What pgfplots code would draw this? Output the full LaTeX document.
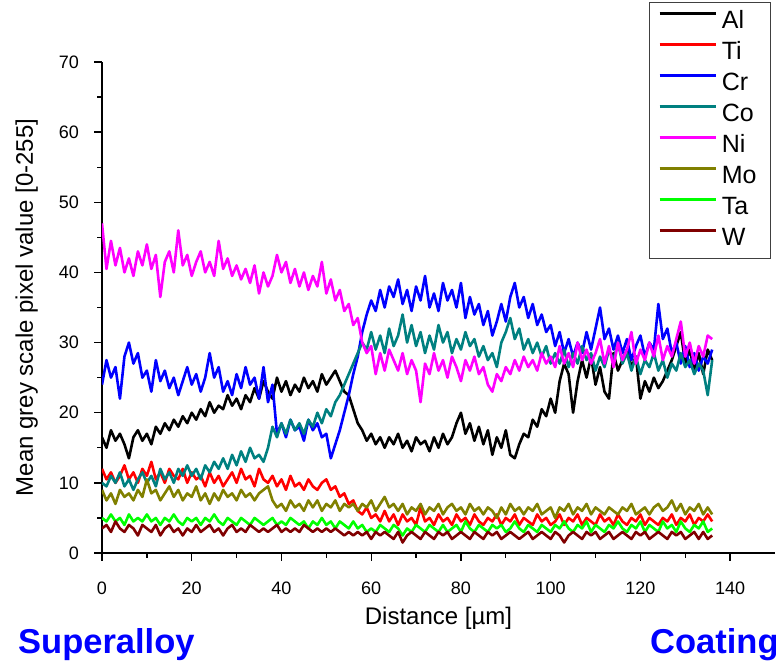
\documentclass[border=0pt]{standalone}
\usepackage{fontspec}
\setmainfont{Liberation Sans}
\usepackage{pgfplots}
\usepackage{pgfplotstable}
\pgfplotsset{compat=1.18}
\definecolor{cAl}{RGB}{0,0,0}
\definecolor{cTi}{RGB}{255,0,0}
\definecolor{cCr}{RGB}{0,0,255}
\definecolor{cCo}{RGB}{0,128,128}
\definecolor{cNi}{RGB}{255,0,255}
\definecolor{cMo}{RGB}{128,128,0}
\definecolor{cTa}{RGB}{0,255,0}
\definecolor{cW}{RGB}{128,0,0}
\pgfplotstableread{
x Al Ti Cr Co Ni Mo Ta W
0 16.5 12.0 24.0 10.0 47.0 9.0 5.0 3.5
1 15.0 10.5 27.5 9.5 40.5 7.5 4.5 4.0
2 17.5 11.5 25.0 11.0 44.5 8.5 5.5 3.0
3 16.0 10.0 26.5 10.0 41.0 7.0 4.5 4.5
4 17.0 11.0 22.0 11.5 43.5 9.0 5.0 3.5
5 15.5 12.5 28.0 9.5 40.0 8.0 4.0 3.0
6 13.5 10.5 30.0 10.5 42.0 8.5 5.5 4.0
7 16.5 11.5 27.0 9.0 39.5 7.5 4.5 3.5
8 17.5 10.0 28.5 10.5 43.0 9.0 5.0 2.5
9 16.0 12.0 25.0 11.5 41.0 8.0 4.5 4.0
10 17.0 11.0 26.0 10.0 44.0 10.5 5.5 3.5
11 15.5 13.0 23.0 11.0 40.5 8.5 4.5 3.0
12 18.0 10.5 27.5 9.5 42.5 9.0 5.0 4.0
13 17.0 11.5 24.5 12.0 36.5 7.5 4.0 2.5
14 18.5 10.0 26.0 10.5 41.5 8.5 5.0 3.5
15 17.5 12.0 23.5 11.5 43.0 9.5 4.5 4.0
16 19.0 11.0 25.0 10.0 40.0 8.0 5.5 3.0
17 18.0 10.5 22.5 12.0 46.0 9.0 4.5 3.5
18 19.5 12.0 24.5 11.0 41.0 7.5 4.0 2.5
19 18.5 10.0 26.5 12.5 42.5 8.5 5.0 3.5
20 20.0 11.5 24.0 11.0 39.5 8.0 4.5 3.0
21 19.0 10.5 25.5 12.0 41.5 9.5 5.0 4.0
22 20.5 11.0 23.0 10.5 43.0 7.5 4.0 3.0
23 19.5 9.5 25.0 12.5 40.0 8.5 5.0 3.5
24 21.5 11.5 28.5 11.5 41.5 7.0 4.5 4.0
25 20.0 10.0 25.0 13.0 39.5 8.5 5.5 3.0
26 21.0 11.0 26.5 12.0 44.5 7.5 4.5 3.5
27 20.5 9.5 23.0 13.5 40.5 9.0 4.0 2.5
28 22.5 10.5 24.5 12.0 42.0 8.0 5.0 3.5
29 21.0 11.5 22.5 14.0 39.5 8.5 4.5 4.0
30 22.0 10.0 25.5 12.5 41.0 7.5 4.0 3.0
31 20.5 12.0 23.5 14.5 39.0 9.0 5.0 3.5
32 22.5 10.5 26.5 13.0 40.5 8.0 4.5 3.0
33 21.5 11.0 24.0 15.0 38.5 8.5 4.0 4.0
34 23.5 9.5 25.0 13.5 41.0 7.5 5.0 3.5
35 22.0 12.0 22.0 14.0 37.0 8.5 4.5 3.0
36 24.5 10.5 26.5 13.0 40.0 9.0 4.0 3.5
37 23.0 10.0 21.5 15.0 38.0 9.5 4.5 3.0
38 22.0 11.0 24.0 18.0 39.5 7.5 5.0 3.5
39 25.0 9.5 17.0 16.5 42.5 6.5 4.0 4.0
40 23.0 10.5 18.5 18.5 40.0 7.0 4.5 3.0
41 24.5 9.0 16.5 17.0 41.5 6.0 4.0 3.5
42 22.5 11.0 19.0 19.0 38.5 7.5 5.0 3.0
43 24.0 9.5 17.5 17.5 40.5 6.5 4.5 3.5
44 23.0 10.0 18.0 18.5 38.0 7.0 4.0 3.0
45 25.0 9.0 16.0 17.0 40.0 6.0 4.5 4.0
46 23.5 10.5 19.0 19.0 37.5 7.5 3.5 3.5
47 24.5 9.5 17.5 18.0 39.5 6.5 4.5 3.0
48 23.0 9.0 18.5 20.0 38.0 7.5 4.0 3.5
49 25.5 10.0 16.5 18.5 41.5 6.0 5.0 3.0
50 24.0 10.5 17.0 20.5 37.0 7.0 4.0 3.5
51 25.0 9.0 13.5 19.5 39.0 6.5 4.5 3.0
52 26.0 9.5 15.5 21.5 36.0 7.5 3.5 3.5
53 24.5 8.0 17.5 22.5 37.5 6.0 4.5 3.0
54 23.0 8.5 20.0 24.0 34.5 7.0 4.0 2.5
55 22.5 7.0 22.5 25.5 35.5 6.5 3.5 3.0
56 20.5 7.5 25.5 27.0 32.5 7.0 4.5 2.5
57 18.5 6.0 28.0 28.5 33.5 6.0 3.5 3.0
58 17.5 5.5 31.5 30.0 30.0 7.0 4.0 2.5
59 16.0 6.5 34.0 29.0 28.5 6.5 3.0 3.0
60 17.0 5.0 36.0 31.5 29.5 7.5 3.5 2.0
61 15.5 5.5 34.5 29.0 25.5 6.0 3.0 3.0
62 16.5 4.5 37.5 31.0 28.5 7.0 4.0 2.5
63 15.0 6.0 35.0 28.5 26.0 8.0 3.5 3.0
64 16.5 4.5 38.0 32.0 29.0 6.5 3.0 2.5
65 15.5 5.5 36.5 29.5 27.5 7.0 4.0 2.0
66 17.0 4.0 39.0 31.0 26.0 6.0 3.5 3.0
67 15.0 5.5 35.5 34.0 28.5 7.0 2.5 1.5
68 16.0 4.5 37.5 30.0 25.5 5.5 3.5 2.5
69 14.5 5.0 34.5 32.5 27.5 6.5 3.0 3.0
70 16.5 4.0 38.0 29.5 26.0 6.0 4.0 2.5
71 15.5 6.5 36.0 31.5 21.5 7.0 3.5 2.0
72 16.0 4.5 39.5 28.5 27.0 5.5 3.0 3.0
73 14.5 5.0 35.0 31.0 25.5 6.5 4.0 2.5
74 16.5 4.0 37.0 29.0 28.5 6.0 3.5 2.0
75 15.0 5.5 34.5 32.5 26.0 7.0 3.0 3.0
76 17.0 4.5 38.5 30.0 27.5 5.5 4.0 2.5
77 15.5 5.0 36.0 31.5 25.0 6.5 3.0 3.0
78 16.5 4.0 37.5 28.5 28.0 7.0 3.5 2.0
79 18.5 5.5 35.0 30.5 26.5 6.0 4.0 2.5
80 20.0 4.5 38.5 29.0 24.5 6.5 3.0 3.0
81 17.0 5.0 33.5 31.5 27.5 5.5 4.5 2.5
82 18.5 4.0 36.5 29.5 26.0 7.0 3.5 2.0
83 16.0 5.5 34.0 30.5 28.0 6.0 3.0 3.0
84 18.0 4.5 35.5 28.0 25.5 6.5 4.0 2.5
85 15.5 4.0 32.5 29.5 26.5 5.5 3.5 2.0
86 17.5 5.0 34.5 27.5 24.0 6.5 3.0 3.0
87 14.0 4.5 31.0 28.5 23.0 6.0 4.0 2.5
88 16.5 5.5 33.0 26.5 25.5 5.0 3.5 3.0
89 15.0 4.0 35.5 30.0 24.5 6.5 4.0 2.0
90 17.5 5.0 33.0 31.5 26.5 5.5 3.0 2.5
91 14.0 4.5 36.5 33.5 25.5 7.0 3.5 3.0
92 13.5 5.5 38.5 30.5 27.5 6.0 4.5 2.5
93 15.5 4.0 35.0 32.0 26.0 6.5 3.5 2.0
94 17.0 5.0 36.5 29.0 28.0 5.5 3.0 2.5
95 16.5 4.5 33.5 30.5 26.5 6.5 4.0 3.0
96 19.0 4.0 35.5 28.5 27.5 6.0 3.5 2.0
97 18.0 5.5 32.5 30.0 26.0 7.0 3.0 2.5
98 20.5 4.5 34.0 28.0 28.5 5.5 4.0 3.0
99 19.5 5.0 31.5 29.5 27.0 6.0 3.5 2.5
100 22.0 4.0 32.5 27.0 28.0 6.5 3.0 2.0
101 20.0 4.5 29.5 28.5 26.5 5.0 4.0 3.0
102 24.5 5.5 31.5 27.0 29.5 6.5 3.5 2.5
103 27.0 4.0 28.5 29.0 27.0 6.0 4.5 1.5
104 25.5 5.0 30.5 26.5 28.5 7.0 3.5 2.5
105 20.0 4.5 28.0 28.5 26.5 5.5 3.0 3.0
106 24.5 5.5 30.0 27.0 30.0 6.5 4.0 2.5
107 27.5 4.0 28.5 29.5 27.5 6.0 3.5 2.0
108 25.0 5.0 31.5 27.5 29.0 7.0 4.5 3.0
109 28.0 4.5 29.0 28.5 27.0 5.5 3.0 2.5
110 24.0 4.0 32.0 26.0 28.5 6.5 4.0 3.0
111 26.5 5.5 35.0 28.0 30.5 6.0 3.5 2.0
112 23.0 4.5 30.5 26.5 27.0 5.5 3.0 2.5
113 22.0 5.0 32.0 29.0 29.5 6.5 4.0 3.0
114 28.5 4.0 29.0 27.5 26.5 6.0 3.5 2.0
115 26.0 5.5 31.0 30.0 30.0 5.5 4.5 2.5
116 27.5 4.5 28.5 27.0 27.5 6.5 3.5 3.0
117 29.0 4.0 30.5 28.5 29.0 6.0 3.0 2.5
118 26.5 5.0 27.5 26.0 31.5 7.0 4.0 2.0
119 28.0 4.5 29.5 28.0 27.0 5.5 3.5 3.0
120 22.0 5.5 31.0 25.5 29.0 6.0 4.5 2.5
121 24.5 4.0 28.0 27.5 27.5 6.5 3.0 3.0
122 23.0 5.0 30.0 26.5 30.0 5.5 4.0 2.0
123 25.0 4.5 29.0 28.5 28.0 6.5 3.5 2.5
124 23.5 4.0 35.5 26.0 31.0 7.0 3.0 3.0
125 24.5 5.0 30.5 27.5 27.5 6.0 4.5 2.5
126 26.0 4.5 32.0 25.0 29.5 6.5 3.5 2.0
127 27.5 5.5 28.5 27.0 28.0 7.5 4.0 3.0
128 29.5 4.0 30.0 26.0 30.5 6.0 3.0 2.5
129 31.5 5.0 27.0 28.5 33.0 7.0 4.5 3.0
130 27.0 4.5 29.5 26.5 28.0 5.5 3.5 2.0
131 29.0 5.5 26.5 27.5 30.0 6.5 3.0 2.5
132 26.0 4.0 28.5 25.5 27.0 6.0 4.0 3.0
133 28.5 5.0 26.0 27.0 29.5 7.0 3.5 2.0
134 25.5 4.5 28.0 26.0 28.0 5.5 4.5 3.0
135 29.0 5.5 27.0 22.5 31.0 6.5 3.0 2.0
136 27.5 4.5 29.0 27.5 30.5 5.5 3.5 2.5
}\profile
\begin{document}
\begin{tikzpicture}
\useasboundingbox (-102pt,-113pt) rectangle (674pt,553pt);
\begin{axis}[
  at={(0pt,0pt)}, anchor=south west,
  scale only axis, width=673pt, height=491pt,
  xmin=0, xmax=150, ymin=0, ymax=70,
  axis lines=left,
  axis line style={-, line width=1.4pt, black},
  xtick={0,20,...,140}, ytick={0,10,...,70},
  minor x tick num=1, minor y tick num=1,
  tick align=outside,
  major tick length=8pt, minor tick length=5pt,
  every tick/.style={line width=1.3pt, black},
  /pgf/number format/assume math mode=true,
  xticklabel style={font=\fontsize{18}{18}\selectfont, anchor=north, inner sep=0pt, yshift=-21pt},
  yticklabel style={font=\fontsize{18}{18}\selectfont, anchor=east, inner sep=0pt, xshift=-15pt},
  xlabel={Distance [µm]},
  ylabel={Mean grey scale pixel value [0-255]},
  label style={font=\fontsize{24}{24}\selectfont},
  xlabel style={at={(axis description cs:0.5,-0.14664)}, anchor=base},
  ylabel style={at={(axis description cs:-0.10253,0.5)}, anchor=base, rotate=0},
  legend style={at={(axis description cs:0.99406,1.1222)}, anchor=north east,
    draw=black!75, line width=0.8pt, fill=white,
    font=\fontsize{25}{25}\selectfont,
    inner xsep=9pt, inner ysep=4pt, row sep=0pt,
    nodes={inner sep=5pt, text height=17.5pt, text depth=3.5pt}},
  legend cell align=left,
  legend image code/.code={\draw[#1, line width=2.6pt] (0pt,8.5pt) -- (56pt,8.5pt);},
  every axis plot/.append style={line width=2.6pt, line join=round, no markers},
]
\addplot[cAl] table[x=x, y=Al] {\profile};
\addlegendentry{Al}
\addplot[cTi] table[x=x, y=Ti] {\profile};
\addlegendentry{Ti}
\addplot[cCr] table[x=x, y=Cr] {\profile};
\addlegendentry{Cr}
\addplot[cCo] table[x=x, y=Co] {\profile};
\addlegendentry{Co}
\addplot[cNi] table[x=x, y=Ni] {\profile};
\addlegendentry{Ni}
\addplot[cMo] table[x=x, y=Mo] {\profile};
\addlegendentry{Mo}
\addplot[cTa] table[x=x, y=Ta] {\profile};
\addlegendentry{Ta}
\addplot[cW] table[x=x, y=W] {\profile};
\addlegendentry{W}
\end{axis}
\node[anchor=base west, inner sep=0pt, text=blue, font=\fontsize{34.5}{34.5}\selectfont\bfseries] at (-84pt,-100pt) {Superalloy};
\node[anchor=base west, inner sep=0pt, text=blue, font=\fontsize{34.5}{34.5}\selectfont\bfseries] at (548pt,-100pt) {Coating};
\end{tikzpicture}
\end{document}
